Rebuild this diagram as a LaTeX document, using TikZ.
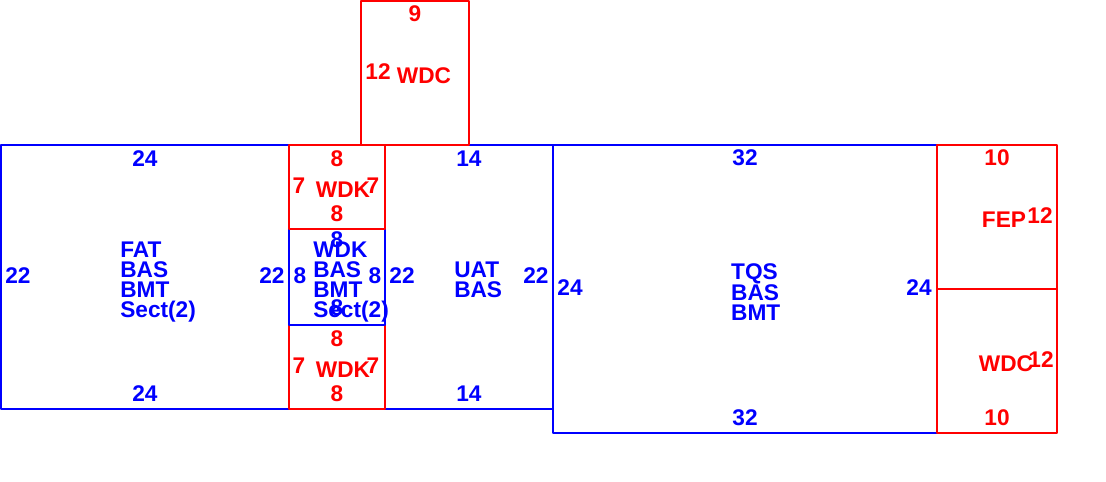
\documentclass[tikz,border=0pt]{standalone}
\usepackage{fontspec}
\setmainfont{Liberation Sans}
\definecolor{roomblue}{rgb}{0,0,1}
\definecolor{roomred}{rgb}{1,0,0}

\begin{document}
\begin{tikzpicture}[line cap=round,line join=round,x=9pt,y=9pt,
  wall/.style={line width=1pt},
  lbl/.style={inner sep=0pt,font=\bfseries\fontsize{17}{15}\selectfont},
  blk/.style={lbl,align=left,anchor=north west}]
\useasboundingbox (-0.08,-28.08) rectangle (92.08,12.08);
\draw [wall,color=roomblue] (0,0) rectangle (24,-22);
\draw [wall,color=roomblue] (32,0) rectangle (46,-22);
\draw [wall,color=roomblue] (46,0) rectangle (78,-24);
\draw [wall,color=roomred] (24,-15) rectangle (32,-22);
\draw [wall,color=roomblue] (24,-7) rectangle (32,-15);
\draw [wall,color=roomred] (24,0) rectangle (32,-7);
\draw [wall,color=roomred] (30,0) rectangle (39,12);
\draw [wall,color=roomred] (78,0) rectangle (88,-12);
\draw [wall,color=roomred] (78,-12) rectangle (88,-24);
\foreach \y/\n in {1.17/t,20.75/b}
{
\node[lbl,roomblue] (fat\n) at (12,-\y) {24};
\node[lbl,roomblue] (uat\n) at (39,-\y) {14};
}
\node[lbl,roomblue] (fatl) at (1.42,-10.92) {22};
\node[lbl,roomblue] (fatr) at (22.58,-10.92) {22};
\node[blk,roomblue] (fatname) at (9.92,-8.08) {FAT\\BAS\\BMT\\Sect(2)};
\node[lbl,roomblue] (uatl) at (33.42,-10.92) {22};
\node[lbl,roomblue] (uatr) at (44.58,-10.92) {22};
\node[blk,roomblue] (uatname) at (37.75,-9.75) {UAT\\BAS};
\node[lbl,roomblue] (tqst) at (62,-1.08) {32};
\node[lbl,roomblue] (tqsb) at (62,-22.75) {32};
\node[lbl,roomblue] (tqsl) at (47.42,-11.92) {24};
\node[lbl,roomblue] (tqsr) at (76.5,-11.92) {24};
\node[blk,roomblue] (tqsname) at (60.83,-9.83) {TQS\\BAS\\BMT};
\node[blk,roomblue] (wdkname) at (26,-8.08) {WDK\\BAS\\BMT\\Sect(2)};
\node[lbl,roomblue] (wdkt) at (28,-7.92) {8};
\node[lbl,roomblue] (wdkb) at (28,-13.58) {8};
\node[lbl,roomblue] (wdkl) at (24.92,-10.92) {8};
\node[lbl,roomblue] (wdkr) at (31.17,-10.92) {8};
\foreach \y/\n in {0/a,-15/b}
{
\node[lbl,roomred] (wdk\n t) at (28,\y-1.17) {8};
\node[lbl,roomred] (wdk\n b) at (28,\y-5.75) {8};
\node[lbl,roomred] (wdk\n l) at (24.83,\y-3.42) {7};
\node[lbl,roomred] (wdk\n r) at (31,\y-3.42) {7};
\node[lbl,roomred] (wdk\n name) at (28.5,\y-3.75) {WDK};
}
\node[lbl,roomred] (wdcupt) at (34.5,10.92) {9};
\node[lbl,roomred] (wdcupl) at (31.42,6.08) {12};
\node[lbl,roomred] (wdcupname) at (35.25,5.75) {WDC};
\node[lbl,roomred] (fept) at (83,-1.08) {10};
\node[lbl,roomred] (fepname) at (83.58,-6.25) {FEP};
\node[lbl,roomred] (fepr) at (86.58,-5.92) {12};
\node[lbl,roomred] (wdcname) at (83.75,-18.25) {WDC};
\node[lbl,roomred] (wdcr) at (86.67,-17.92) {12};
\node[lbl,roomred] (wdcb) at (83,-22.75) {10};
\end{tikzpicture}
\end{document}
